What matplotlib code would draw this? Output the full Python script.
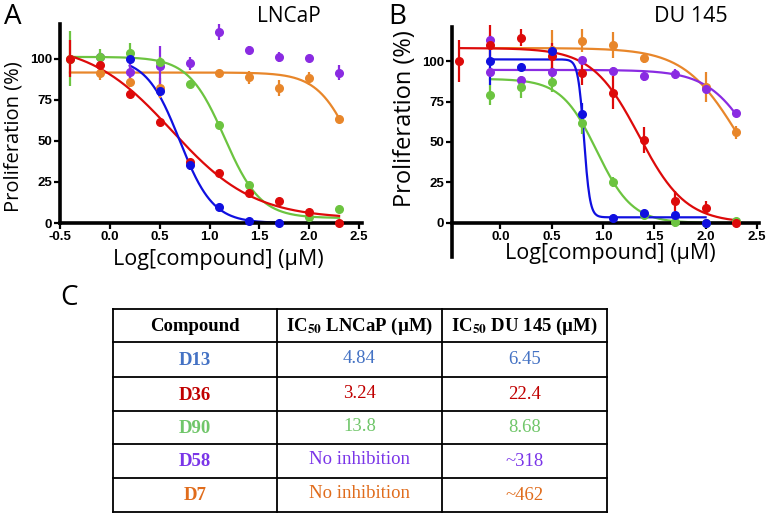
import numpy as np
import matplotlib
matplotlib.use("Agg")
import matplotlib.pyplot as plt

plt.rcParams['font.family'] = ['Open Sans', 'DejaVu Sans']
plt.rcParams['mathtext.fontset'] = 'stix'

# ---------------- data ----------------
colors = {"D13": "#1010e0", "D36": "#dd0a0a", "D90": "#6cc440", "D58": "#8a2be2", "D7": "#e8862a"}
table_colors = {"D13": "#4472c4", "D36": "#c00000", "D90": "#70c66a", "D58": "#7a35e8", "D7": "#e06c1c"}

# Panel A: LNCaP
a_d13_x = [0.2, 0.5, 0.8, 1.1, 1.4, 1.7]
a_d13_y = [100, 80.5, 35.5, 10, 1.5, 0]
a_d13_e = [1, 3, 3, 1.5, 1, 0.5]
a_d36_x = [-0.4, -0.1, 0.2, 0.5, 0.8, 1.1, 1.4, 1.7, 2.0, 2.3]
a_d36_y = [100, 96, 78.5, 61.5, 37, 30.5, 18, 13.5, 6.5, 0]
a_d36_e = [11, 3, 2.5, 1.5, 2, 1.5, 1.5, 1, 1, 0.5]
a_d90_x = [-0.4, -0.1, 0.2, 0.5, 0.8, 1.1, 1.4, 2.0, 2.3]
a_d90_y = [100, 101, 103.5, 98, 84.5, 59.5, 23, 3.5, 8.5]
a_d90_e = [17, 5, 6, 3, 1, 1, 1, 1, 1]
a_d58_x = [-0.1, 0.2, 0.5, 0.8, 1.1, 1.4, 1.7, 2.0, 2.3]
a_d58_y = [101, 92, 95.5, 97, 116, 105, 101, 100.5, 91.5]
a_d58_e = [3, 5, 12, 4, 5, 2.5, 3, 1, 4.5]
a_d7_x = [-0.1, 0.2, 0.5, 1.1, 1.4, 1.7, 2.0, 2.3]
a_d7_y = [91, 85.5, 82, 91.5, 88.5, 82, 88, 63.5]
a_d7_e = [4, 3, 6, 1, 4, 5, 4, 1]

# 4PL fit parameters: top, bottom, logIC50, hill, x-start, x-end
a_fit_d13 = [100.5, 0, 0.70, 2.6, 0.2, 1.7]
a_fit_d36 = [110, 2.5, 0.62, 1.05, -0.4, 2.3]
a_fit_d90 = [101, 3, 1.15, 2.4, -0.4, 2.3]
a_fit_d7 = [91.5, 0, 2.45, 2.4, -0.4, 2.3]

# Panel B: DU 145
b_d13_x = [-0.1, 0.2, 0.5, 0.8, 1.1, 1.4, 1.7, 2.0]
b_d13_y = [100, 96, 106, 67, 3, 6, 5, 0]
b_d13_e = [15, 1.5, 3, 7, 1, 1.5, 1.5, 0.5]
b_d36_x = [-0.4, -0.1, 0.2, 0.5, 0.8, 1.1, 1.4, 1.7, 2.0, 2.3]
b_d36_y = [100, 110, 114.5, 103, 92.5, 80.5, 51, 13.5, 9.5, 0]
b_d36_e = [13, 12, 5, 8, 7, 10, 8, 6, 4, 0.5]
b_d90_x = [-0.1, 0.2, 0.5, 0.8, 1.1, 1.4, 1.7, 2.0, 2.3]
b_d90_y = [79, 84, 87, 62, 25.5, 5, 0.5, 0, 1.5]
b_d90_e = [6, 7, 6, 7, 3, 1, 3, 0.5, 1]
b_d58_x = [-0.1, -0.1, 0.2, 0.5, 0.8, 1.1, 1.4, 1.7, 2.0, 2.3]
b_d58_y = [113, 93, 88, 93.5, 100.5, 94, 90.5, 92, 83, 68]
b_d58_e = [3, 3, 2, 3, 2, 2, 3, 3, 2, 2]
b_d7_x = [0.5, 0.8, 1.1, 1.4, 2.0, 2.3]
b_d7_y = [107, 112.5, 110, 102, 84, 56]
b_d7_e = [12, 7, 8, 3, 9, 4]

b_fit_d13 = [101, 3.5, 0.815, 15, -0.1, 2.0]
b_fit_d36 = [108, 0, 1.35, 1.9, -0.4, 2.3]
b_fit_d90 = [89, 0, 0.94, 2.5, -0.1, 2.3]
b_fit_d58 = [94.5, 0, 2.5, 1.9, -0.1, 2.3]
b_fit_d7 = [108, 0, 2.32, 1.63, -0.1, 2.3]

x_ticks = [-0.5, 0.0, 0.5, 1.0, 1.5, 2.0, 2.5]
y_ticks = [0, 25, 50, 75, 100]

table_header = ["Compound", r"IC$_{\mathbf{50}}$ LNCaP (µM)", r"IC$_{\mathbf{50}}$ DU 145 (µM)"]
table_compounds = ["D13", "D36", "D90", "D58", "D7"]
table_lncap = ["4.84", "3.24", "13.8", "No inhibition", "No inhibition"]
table_du145 = ["6.45", "22.4", "8.68", "~318", "~462"]


def fourpl(params):
    top, bottom, c, h, x0, x1 = params
    xx = np.linspace(x0, x1, 300)
    return xx, bottom + (top - bottom) / (1 + 10 ** ((xx - c) * h))


def series(ax, x, y, e, col, fit=None):
    if fit is not None:
        xx, yy = fourpl(fit)
        ax.plot(xx, yy, color=col, lw=1.6, zorder=2, clip_on=False)
    ax.errorbar(x, y, yerr=e, fmt='o', color=col, ms=5.5, elinewidth=1.6,
                capsize=0, zorder=3, clip_on=False)


def style(ax):
    for s in ['top', 'right']:
        ax.spines[s].set_visible(False)
    for s in ['left', 'bottom']:
        ax.spines[s].set_linewidth(2.6)
    ax.set_yticks(y_ticks)
    ax.tick_params(axis='both', length=4, width=1.6, labelsize=9.5, pad=1.5)
    for lab in ax.get_xticklabels() + ax.get_yticklabels():
        lab.set_fontweight('bold')
        lab.set_family('Liberation Sans')


fig = plt.figure(figsize=(7.68, 5.14), dpi=100)
H = 514.0
W = 768.0

# Panel A
axA = fig.add_axes([60 / W, 1 - 223 / H, 302 / W, 199 / H])
series(axA, a_d7_x, a_d7_y, a_d7_e, colors["D7"], a_fit_d7)
series(axA, a_d58_x, a_d58_y, a_d58_e, colors["D58"])
series(axA, a_d90_x, a_d90_y, a_d90_e, colors["D90"], a_fit_d90)
series(axA, a_d36_x, a_d36_y, a_d36_e, colors["D36"], a_fit_d36)
series(axA, a_d13_x, a_d13_y, a_d13_e, colors["D13"], a_fit_d13)
axA.set_xlim(-0.5, 2.53)
axA.set_ylim(0, 121)
axA.set_xticks(x_ticks)
axA.set_xticklabels([f"{t:.1f}" for t in x_ticks])
style(axA)
fig.text(14 / W, 1 - 137 / H, "Proliferation (%)", fontsize=14.5, rotation=90,
         ha='center', va='center')
fig.text(218 / W, 1 - 259 / H, "Log[compound] (µM)", fontsize=15.5,
         ha='center', va='center')

# Panel B
axB = fig.add_axes([452 / W, 1 - 257 / H, 307 / W, 230 / H])
series(axB, b_d7_x, b_d7_y, b_d7_e, colors["D7"], b_fit_d7)
series(axB, b_d58_x, b_d58_y, b_d58_e, colors["D58"], b_fit_d58)
series(axB, b_d90_x, b_d90_y, b_d90_e, colors["D90"], b_fit_d90)
series(axB, b_d36_x, b_d36_y, b_d36_e, colors["D36"], b_fit_d36)
series(axB, b_d13_x, b_d13_y, b_d13_e, colors["D13"], b_fit_d13)
axB.set_xlim(-0.47, 2.52)
axB.set_ylim(-21, 121)
axB.spines['bottom'].set_position(('data', 0))
axB.set_xticks(x_ticks[1:])
axB.set_xticklabels([f"{t:.1f}" for t in x_ticks[1:]])
style(axB)
fig.text(405 / W, 1 - 119 / H, "Proliferation (%)", fontsize=17, rotation=90,
         ha='center', va='center')
fig.text(610 / W, 1 - 254 / H, "Log[compound] (µM)", fontsize=15.5,
         ha='center', va='center')

# panel letters and titles
fig.text(4 / W, 1 - 3 / H, "A", fontsize=20, va='top', ha='left')
fig.text(388 / W, 1 - 3 / H, "B", fontsize=20, va='top', ha='left')
fig.text(60 / W, 1 - 284 / H, "C", fontsize=20, va='top', ha='left')
fig.text(289 / W, 1 - 16 / H, "LNCaP", fontsize=15, va='center', ha='center')
fig.text(691 / W, 1 - 16 / H, "DU 145", fontsize=15.5, va='center', ha='center')

# Panel C table
axT = fig.add_axes([0, 0, 1, 1])
axT.set_xlim(0, W)
axT.set_ylim(H, 0)
axT.axis('off')
col_edges = [113, 277, 442, 607]
row_edges = [309, 342, 377, 411, 444, 478, 512]
for xe in col_edges:
    axT.plot([xe, xe], [row_edges[0], row_edges[-1]], color='black', lw=1.3)
for ye in row_edges:
    axT.plot([col_edges[0], col_edges[-1]], [ye, ye], color='black', lw=1.3)
col_cent = [(col_edges[i] + col_edges[i + 1]) / 2 for i in range(3)]
serif = ['Liberation Serif', 'DejaVu Serif']
hy = (row_edges[0] + row_edges[1]) / 2
for i, h in enumerate(table_header):
    axT.text(col_cent[i], hy + 1, h, fontsize=13.5, fontweight='bold', family=serif,
             ha='center', va='center')
for r, comp in enumerate(table_compounds):
    yc = (row_edges[r + 1] + row_edges[r + 2]) / 2
    col = table_colors[comp]
    axT.text(col_cent[0], yc + 1, comp, fontsize=13.5, fontweight='bold', family=serif,
             color=col, ha='center', va='center')
    axT.text(col_cent[1], yc - 1, table_lncap[r], fontsize=13.5, family=serif,
             color=col, ha='center', va='center')
    axT.text(col_cent[2], yc + 0.5, table_du145[r], fontsize=13.5, family=serif,
             color=col, ha='center', va='center')

fig.savefig("out.png", dpi=100)
